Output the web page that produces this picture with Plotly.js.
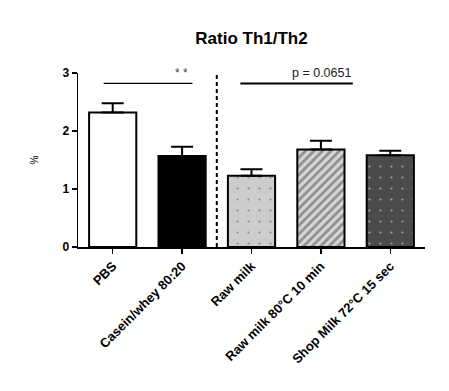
<!DOCTYPE html>
<html><head><meta charset="utf-8">
<script src="https://cdn.plot.ly/plotly-3.0.1.min.js"></script>
<style>html,body{margin:0;padding:0;background:#fff}</style>
</head><body>
<div id="chart" style="width:449px;height:391px"></div>
<script>
const categories = ["PBS", "Casein/whey 80:20", "Raw milk", "Raw milk 80°C 10 min", "Shop Milk 72°C 15 sec"];
const means = [2.32, 1.57, 1.23, 1.68, 1.58];
const sem = [0.16, 0.16, 0.11, 0.15, 0.08];
const fillColors = ["#ffffff", "#000000", "#cccccc", "#d6d6d6", "#4b4b4b"];
const patternShapes = ["", "", ".", "/", "."];
const patternFg = ["#ffffff", "#000000", "#bcbcbc", "#a0a0a0", "#676767"];
const yTicks = [0, 1, 2, 3];

const trace = {
  type: "bar",
  x: categories,
  y: means,
  width: 0.68,
  marker: {
    color: fillColors,
    line: {color: "#000", width: 2},
    pattern: {shape: patternShapes, fgcolor: patternFg, size: [8,8,11,6,11], solidity: [0.1,0.1,0.03,0.45,0.03], fillmode: "overlay"}
  },
  error_y: {type: "data", array: sem, arrayminus: [0,0,0,0,0], symmetric: false, color: "#000", thickness: 2, width: 11},
  hoverinfo: "none"
};

const layout = {
  width: 449, height: 391,
  margin: {l: 78, r: 24, t: 73, b: 144},
  paper_bgcolor: "#fff", plot_bgcolor: "#fff",
  showlegend: false,
  title: {text: "<b>Ratio Th1/Th2</b>", x: 0.5, xref: "paper", y: 1 - 38/391, yref: "container", yanchor: "middle",
          font: {family: "Arial, Liberation Sans, sans-serif", size: 17, color: "#000"}},
  xaxis: {
    type: "category", range: [-0.5, 4.5],
    showline: true, linecolor: "#000", linewidth: 1.5,
    ticks: "outside", ticklen: 5, tickwidth: 1.5, tickcolor: "#000",
    tickangle: -45,
    tickfont: {family: "Arial, Liberation Sans, sans-serif", size: 13, color: "#000", weight: "bold"},
    showgrid: false, zeroline: false, fixedrange: true
  },
  yaxis: {
    range: [0, 3], tickvals: yTicks,
    showline: true, linecolor: "#000", linewidth: 1.5,
    ticks: "outside", ticklen: 5, tickwidth: 1.5, tickcolor: "#000",
    tickfont: {family: "Arial, Liberation Sans, sans-serif", size: 12, color: "#000", weight: "bold"},
    showgrid: false, zeroline: false,
    title: {text: "%", standoff: 22, font: {family: "Arial, Liberation Sans, sans-serif", size: 10, color: "#000"}}
  },
  shapes: [
    {type: "line", xref: "x", yref: "y", x0: 1.5, x1: 1.5, y0: 0, y1: 3, line: {color: "#000", width: 2, dash: "4px,3px"}},
    {type: "line", xref: "x", yref: "y", x0: -0.13, x1: 1.15, y0: 2.82, y1: 2.82, line: {color: "#000", width: 1.2}},
    {type: "line", xref: "x", yref: "y", x0: 1.84, x1: 3.46, y0: 2.82, y1: 2.82, line: {color: "#000", width: 2}}
  ],
  annotations: [
    {xref: "x", yref: "y", x: 1.12, y: 2.84, text: "* *", showarrow: false, xanchor: "right", yanchor: "bottom",
     font: {family: "Arial, Liberation Sans, sans-serif", size: 12, color: "#444"}},
    {xref: "x", yref: "y", x: 3.46, y: 2.84, text: "p = 0.0651", showarrow: false, xanchor: "right", yanchor: "bottom",
     font: {family: "Arial, Liberation Sans, sans-serif", size: 12.5, color: "#222"}}
  ]
};

Plotly.newPlot("chart", [trace], layout, {displayModeBar: false, staticPlot: true});
</script>
</body></html>
